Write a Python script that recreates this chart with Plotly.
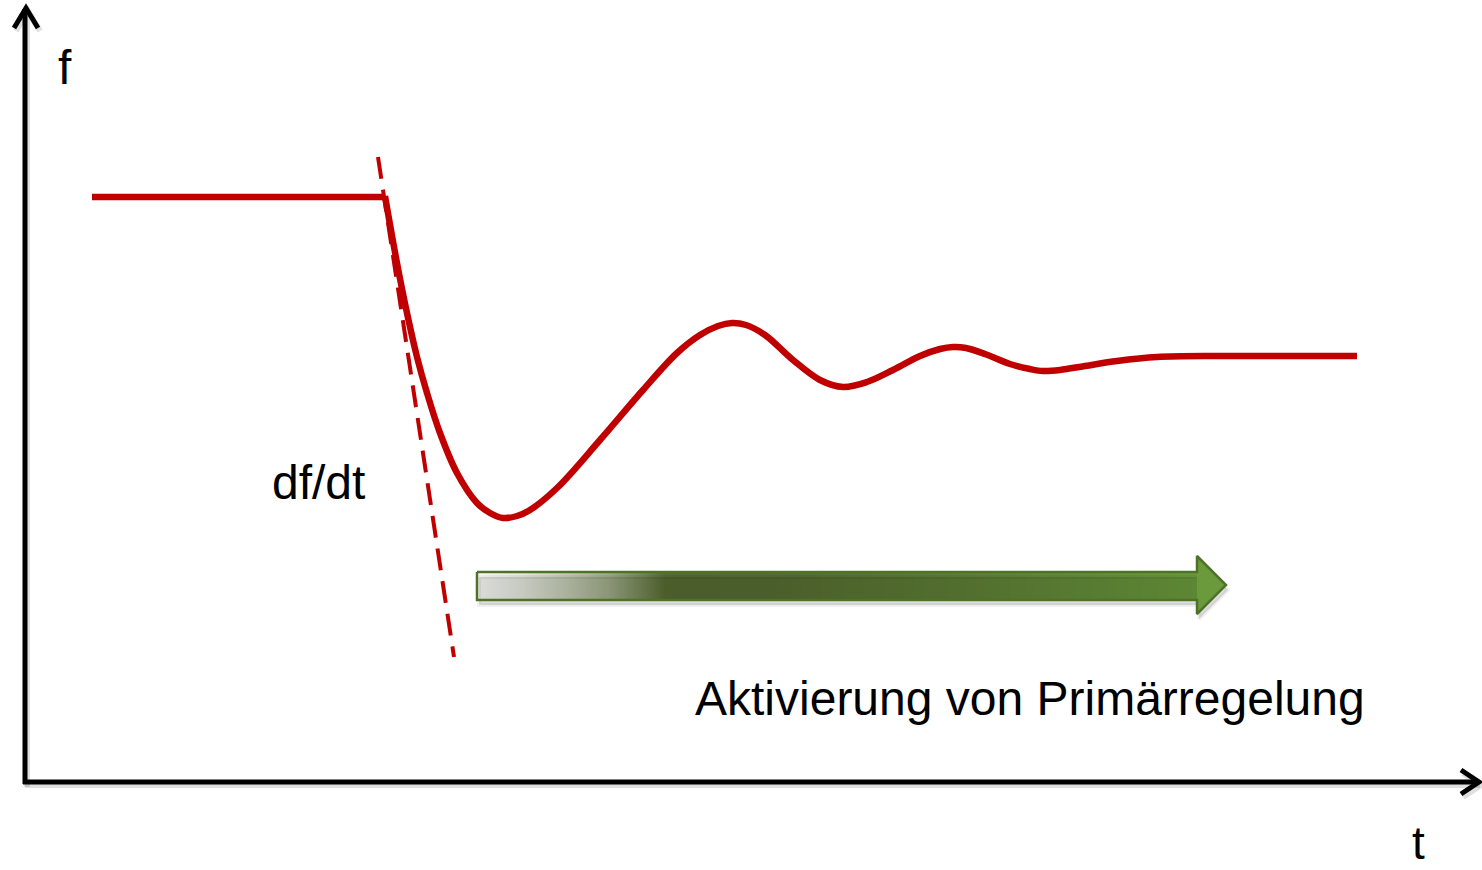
import plotly.graph_objects as go
import numpy as np

# ---- data (in picture units: t -> right, f -> down) ----
flat_t = [92, 385]
flat_f = [197, 197]

resp_t = [385, 397, 407, 417, 427, 440, 457, 477, 490, 503, 517, 530, 557, 600, 643, 677, 700,
          718, 732, 746, 765, 793, 820, 843, 867, 893, 920, 940, 953, 966, 985, 1010,
          1030, 1043, 1060, 1085, 1117, 1157, 1223, 1357]
resp_f = [196, 263, 313, 357, 393, 433, 473, 503, 513, 518, 516, 510, 488, 440, 390, 353, 335,
          326, 323, 325, 335, 360, 380, 387, 382, 370, 356, 349, 347, 348, 354, 364,
          369, 371, 370, 366, 361, 357, 356, 356]

tangent_t = [378, 454]
tangent_f = [157, 657]

axis_v_t = [25, 25]
axis_v_f = [784, 9]
axis_h_t = [23, 1478]
axis_h_f = [782, 782]
head_v_t = [14, 26, 38]
head_v_f = [28, 8, 28]
head_h_t = [1461, 1479, 1461]
head_h_f = [770, 782, 794]

arrow_body_t = [477, 1197]
arrow_body_f = [572, 600]
arrow_head_t = [1197, 1226, 1197]
arrow_head_f = [556, 585, 614]

gradient_stops = [
    [0.00, "#fafaf8"],
    [0.06, "#e2e6dc"],
    [0.12, "#c3cbb5"],
    [0.18, "#9eab88"],
    [0.23, "#728452"],
    [0.26, "#566a31"],
    [0.40, "#556b31"],
    [0.70, "#5f8036"],
    [1.00, "#6a9a3c"],
]

labels = [
    ("f", 65, 67, 48),
    ("df/dt", 318, 482, 48),
    ("Aktivierung von Primärregelung", 1030, 698, 48),
    ("t", 1418, 843, 46),
]

RED = "#c00000"
FONT = "Liberation Sans, Arial, sans-serif"

fig = go.Figure()

# shadow of gradient arrow
sh_t = [arrow_body_t[0], arrow_body_t[1], arrow_head_t[0], arrow_head_t[1],
        arrow_head_t[2], arrow_body_t[1], arrow_body_t[0], arrow_body_t[0]]
sh_f = [arrow_body_f[0], arrow_body_f[0], arrow_head_f[0], arrow_head_f[1],
        arrow_head_f[2], arrow_body_f[1], arrow_body_f[1], arrow_body_f[0]]
fig.add_trace(go.Scatter(x=[v + 2 for v in sh_t], y=[v + 5 for v in sh_f], mode="lines",
                         fill="toself", fillcolor="rgba(0,0,0,0.12)",
                         line=dict(color="rgba(0,0,0,0.06)", width=4), hoverinfo="skip"))

# gradient body via heatmap
n = 200
xs = np.linspace(arrow_body_t[0], arrow_body_t[1], n + 1)
fig.add_trace(go.Heatmap(x=xs, y=arrow_body_f, z=[list(range(n))],
                         colorscale=gradient_stops, showscale=False, hoverinfo="skip",
                         zsmooth="best"))
# arrow head
fig.add_trace(go.Scatter(x=arrow_head_t + [arrow_head_t[0]], y=arrow_head_f + [arrow_head_f[0]],
                         mode="lines", fill="toself", fillcolor="#6a9a3c",
                         line=dict(color="#6a9a3c", width=0), hoverinfo="skip"))
# outline
fig.add_trace(go.Scatter(x=sh_t, y=sh_f, mode="lines",
                         line=dict(color="#4f7229", width=2.5), hoverinfo="skip"))

# axes
for xx, yy in [(axis_v_t, axis_v_f), (axis_h_t, axis_h_f), (head_v_t, head_v_f), (head_h_t, head_h_f)]:
    fig.add_trace(go.Scatter(x=[v + 2 for v in xx], y=[v + 3 for v in yy], mode="lines",
                             line=dict(color="rgba(0,0,0,0.12)", width=6), hoverinfo="skip"))
for xx, yy in [(axis_v_t, axis_v_f), (axis_h_t, axis_h_f), (head_v_t, head_v_f), (head_h_t, head_h_f)]:
    fig.add_trace(go.Scatter(x=xx, y=yy, mode="lines",
                             line=dict(color="black", width=5), hoverinfo="skip"))

# tangent (dashed)
fig.add_trace(go.Scatter(x=tangent_t, y=tangent_f, mode="lines",
                         line=dict(color=RED, width=4, dash="22px,11px"), hoverinfo="skip"))

# frequency curve
fig.add_trace(go.Scatter(x=flat_t, y=flat_f, mode="lines",
                         line=dict(color=RED, width=6.5), hoverinfo="skip"))
fig.add_trace(go.Scatter(x=resp_t, y=resp_f, mode="lines",
                         line=dict(color=RED, width=6.5, shape="spline", smoothing=1.0),
                         hoverinfo="skip"))

for txt, x, y, s in labels:
    fig.add_annotation(x=x, y=y, text=txt, showarrow=False, xanchor="center", yanchor="middle",
                       font=dict(family=FONT, size=s, color="black"))

fig.update_layout(
    width=1482, height=870,
    margin=dict(l=0, r=0, t=0, b=0),
    paper_bgcolor="white", plot_bgcolor="white",
    showlegend=False,
    xaxis=dict(range=[0, 1482], visible=False, fixedrange=True),
    yaxis=dict(range=[870, 0], visible=False, fixedrange=True),
)

fig.write_html("out.html", config={"displayModeBar": False},
               post_script="document.body.style.margin='0';document.body.style.overflow='hidden';")
